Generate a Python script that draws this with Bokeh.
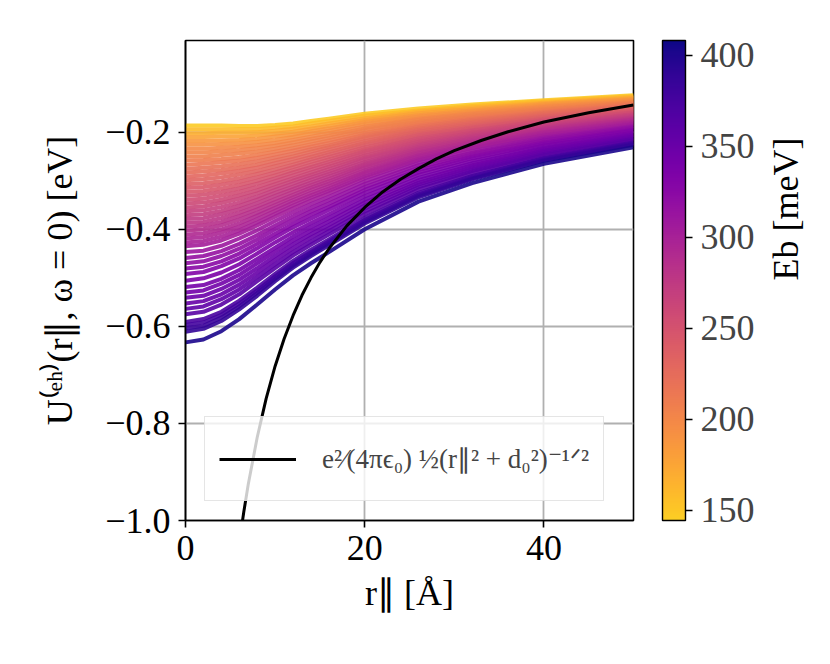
from math import pi
from bokeh.plotting import figure
from bokeh.models import (ColumnDataSource, LinearColorMapper, ColorBar, FixedTicker,
                          Range1d, LinearAxis)
from bokeh.palettes import Plasma256
from bokeh.embed import file_html
from bokeh.resources import INLINE

# ---------------- data ----------------
r_grid = [0, 2, 4, 6, 8, 10, 12, 14, 16, 20, 26, 32, 40, 50]

E_b = [147, 158, 168, 177, 186, 192, 197, 202, 206, 210, 215, 220, 224, 229, 233, 238,
       243, 247, 252, 256, 260, 264, 268, 272, 276, 280, 284, 288, 292, 296, 300, 304,
       310, 316, 321, 327, 331, 336, 340, 344, 348, 352, 357, 362, 372, 377, 382, 388,
       402]

U_curves = [
    [-0.186, -0.186, -0.186, -0.187, -0.187, -0.185, -0.182, -0.177, -0.172, -0.162, -0.151, -0.143, -0.134, -0.124],
    [-0.194, -0.194, -0.194, -0.194, -0.194, -0.191, -0.188, -0.182, -0.177, -0.166, -0.155, -0.146, -0.136, -0.126],
    [-0.202, -0.202, -0.201, -0.201, -0.200, -0.197, -0.193, -0.188, -0.182, -0.171, -0.158, -0.149, -0.139, -0.128],
    [-0.210, -0.210, -0.209, -0.209, -0.207, -0.203, -0.199, -0.193, -0.187, -0.175, -0.161, -0.152, -0.141, -0.130],
    [-0.218, -0.218, -0.217, -0.216, -0.214, -0.209, -0.205, -0.198, -0.192, -0.179, -0.165, -0.155, -0.143, -0.132],
    [-0.226, -0.226, -0.224, -0.223, -0.220, -0.216, -0.210, -0.203, -0.197, -0.183, -0.168, -0.158, -0.146, -0.134],
    [-0.234, -0.234, -0.232, -0.230, -0.227, -0.222, -0.216, -0.209, -0.202, -0.188, -0.172, -0.161, -0.148, -0.136],
    [-0.242, -0.242, -0.239, -0.237, -0.233, -0.228, -0.221, -0.214, -0.207, -0.192, -0.175, -0.163, -0.151, -0.138],
    [-0.250, -0.250, -0.247, -0.244, -0.240, -0.234, -0.227, -0.219, -0.212, -0.196, -0.179, -0.166, -0.153, -0.139],
    [-0.258, -0.257, -0.255, -0.252, -0.247, -0.240, -0.233, -0.225, -0.217, -0.201, -0.182, -0.169, -0.155, -0.141],
    [-0.267, -0.265, -0.262, -0.259, -0.253, -0.246, -0.238, -0.230, -0.222, -0.205, -0.186, -0.172, -0.158, -0.143],
    [-0.275, -0.273, -0.270, -0.266, -0.260, -0.252, -0.244, -0.235, -0.227, -0.209, -0.189, -0.175, -0.160, -0.145],
    [-0.283, -0.281, -0.278, -0.273, -0.267, -0.258, -0.250, -0.240, -0.231, -0.213, -0.193, -0.178, -0.162, -0.147],
    [-0.291, -0.289, -0.285, -0.280, -0.273, -0.264, -0.255, -0.246, -0.236, -0.218, -0.196, -0.181, -0.165, -0.149],
    [-0.299, -0.297, -0.293, -0.287, -0.280, -0.270, -0.261, -0.251, -0.241, -0.222, -0.199, -0.184, -0.167, -0.151],
    [-0.307, -0.305, -0.301, -0.295, -0.286, -0.277, -0.267, -0.256, -0.246, -0.226, -0.203, -0.187, -0.169, -0.153],
    [-0.315, -0.313, -0.308, -0.302, -0.293, -0.283, -0.272, -0.261, -0.251, -0.231, -0.206, -0.190, -0.172, -0.155],
    [-0.323, -0.321, -0.316, -0.309, -0.300, -0.289, -0.278, -0.267, -0.256, -0.235, -0.210, -0.193, -0.174, -0.157],
    [-0.331, -0.329, -0.323, -0.316, -0.306, -0.295, -0.283, -0.272, -0.261, -0.239, -0.213, -0.196, -0.176, -0.159],
    [-0.339, -0.337, -0.331, -0.323, -0.313, -0.301, -0.289, -0.277, -0.266, -0.243, -0.217, -0.198, -0.179, -0.161],
    [-0.347, -0.345, -0.339, -0.330, -0.320, -0.307, -0.295, -0.283, -0.271, -0.248, -0.220, -0.201, -0.181, -0.163],
    [-0.355, -0.353, -0.346, -0.337, -0.326, -0.313, -0.300, -0.288, -0.276, -0.252, -0.224, -0.204, -0.184, -0.164],
    [-0.363, -0.361, -0.354, -0.345, -0.333, -0.319, -0.306, -0.293, -0.281, -0.256, -0.227, -0.207, -0.186, -0.166],
    [-0.371, -0.369, -0.362, -0.352, -0.339, -0.325, -0.312, -0.298, -0.286, -0.261, -0.231, -0.210, -0.188, -0.168],
    [-0.379, -0.377, -0.369, -0.359, -0.346, -0.331, -0.317, -0.304, -0.291, -0.265, -0.234, -0.213, -0.191, -0.170],
    [-0.387, -0.385, -0.377, -0.366, -0.353, -0.338, -0.323, -0.309, -0.296, -0.269, -0.237, -0.216, -0.193, -0.172],
    [-0.395, -0.392, -0.385, -0.373, -0.359, -0.344, -0.329, -0.314, -0.301, -0.273, -0.241, -0.219, -0.195, -0.174],
    [-0.403, -0.400, -0.392, -0.380, -0.366, -0.350, -0.334, -0.319, -0.306, -0.278, -0.244, -0.222, -0.198, -0.176],
    [-0.411, -0.408, -0.400, -0.388, -0.372, -0.356, -0.340, -0.325, -0.311, -0.282, -0.248, -0.225, -0.200, -0.178],
    [-0.419, -0.416, -0.407, -0.395, -0.379, -0.362, -0.345, -0.330, -0.316, -0.286, -0.251, -0.228, -0.202, -0.180],
    [-0.427, -0.424, -0.415, -0.402, -0.386, -0.368, -0.351, -0.335, -0.321, -0.291, -0.255, -0.230, -0.205, -0.182],
    [-0.435, -0.432, -0.423, -0.409, -0.392, -0.374, -0.357, -0.341, -0.326, -0.295, -0.258, -0.233, -0.207, -0.184],
    [-0.447, -0.444, -0.434, -0.419, -0.402, -0.383, -0.365, -0.348, -0.333, -0.301, -0.263, -0.238, -0.211, -0.187],
    [-0.459, -0.455, -0.445, -0.430, -0.412, -0.392, -0.373, -0.356, -0.340, -0.307, -0.268, -0.242, -0.214, -0.189],
    [-0.470, -0.466, -0.455, -0.440, -0.421, -0.400, -0.381, -0.363, -0.347, -0.313, -0.273, -0.246, -0.217, -0.192],
    [-0.481, -0.477, -0.466, -0.450, -0.430, -0.409, -0.389, -0.370, -0.354, -0.319, -0.278, -0.250, -0.221, -0.195],
    [-0.492, -0.488, -0.476, -0.460, -0.439, -0.417, -0.396, -0.378, -0.360, -0.325, -0.283, -0.254, -0.224, -0.197],
    [-0.506, -0.501, -0.489, -0.472, -0.450, -0.427, -0.406, -0.387, -0.369, -0.332, -0.288, -0.259, -0.228, -0.201],
    [-0.519, -0.515, -0.502, -0.484, -0.461, -0.438, -0.415, -0.395, -0.377, -0.339, -0.294, -0.264, -0.232, -0.204],
    [-0.530, -0.526, -0.512, -0.494, -0.470, -0.446, -0.423, -0.403, -0.384, -0.345, -0.299, -0.268, -0.235, -0.206],
    [-0.541, -0.537, -0.523, -0.504, -0.480, -0.455, -0.431, -0.410, -0.391, -0.351, -0.304, -0.272, -0.238, -0.209],
    [-0.553, -0.548, -0.534, -0.514, -0.489, -0.463, -0.439, -0.417, -0.398, -0.357, -0.308, -0.276, -0.241, -0.212],
    [-0.564, -0.559, -0.544, -0.524, -0.498, -0.472, -0.447, -0.425, -0.404, -0.363, -0.313, -0.280, -0.245, -0.214],
    [-0.575, -0.570, -0.555, -0.534, -0.507, -0.480, -0.454, -0.432, -0.411, -0.369, -0.318, -0.284, -0.248, -0.217],
    [-0.591, -0.585, -0.570, -0.547, -0.520, -0.492, -0.465, -0.442, -0.421, -0.377, -0.325, -0.290, -0.253, -0.221],
    [-0.597, -0.592, -0.576, -0.553, -0.526, -0.497, -0.470, -0.447, -0.425, -0.381, -0.328, -0.292, -0.255, -0.222],
    [-0.604, -0.599, -0.582, -0.559, -0.531, -0.502, -0.475, -0.451, -0.429, -0.385, -0.331, -0.295, -0.257, -0.224],
    [-0.611, -0.605, -0.589, -0.565, -0.537, -0.507, -0.479, -0.455, -0.433, -0.388, -0.334, -0.297, -0.259, -0.226],
    [-0.633, -0.627, -0.610, -0.585, -0.555, -0.524, -0.495, -0.470, -0.447, -0.400, -0.343, -0.305, -0.265, -0.231],
]

coulomb_r = [6, 6.5, 7, 8, 9, 10, 11, 12, 13, 14, 15, 16, 18, 20, 22, 24, 26, 28, 30,
             33, 36, 40, 45, 50]
coulomb_U = [-1.046, -0.983, -0.926, -0.829, -0.749, -0.682, -0.626, -0.578, -0.536,
             -0.500, -0.468, -0.440, -0.393, -0.355, -0.323, -0.297, -0.275, -0.255,
             -0.238, -0.217, -0.199, -0.179, -0.160, -0.144]

x_ticks = [0, 20, 40]
y_ticks = [-1.0, -0.8, -0.6, -0.4, -0.2]
y_tick_labels = ["\u22121.0", "\u22120.8", "\u22120.6", "\u22120.4", "\u22120.2"]
cb_ticks = [150, 200, 250, 300, 350, 400]
E_low, E_high = 144.5, 408.0

FONT = "Liberation Serif"
FS = "36px"

# ---------------- figure ----------------
p = figure(width=828, height=650, x_range=Range1d(0, 50), y_range=Range1d(-1.0, -0.011),
           output_backend="svg", toolbar_location=None,
           min_border_left=185, min_border_right=195, min_border_top=40,
           min_border_bottom=130)

p.outline_line_color = "black"
p.outline_line_width = 1.6
p.background_fill_color = "white"

palette = list(reversed(Plasma256[:231]))
mapper = LinearColorMapper(palette=palette, low=E_low, high=E_high)

src = ColumnDataSource(dict(xs=[r_grid] * len(U_curves), ys=U_curves, E=E_b))
p.multi_line("xs", "ys", source=src, line_color={"field": "E", "transform": mapper},
             line_width=4, line_alpha=0.9)

p.line(coulomb_r, coulomb_U, line_color="black", line_width=3,
       legend_label="e\u00b2\u2044(4\u03c0\u03f5\u2080) \u00bd(r\u2225\u00b2 + d\u2080\u00b2)\u207b\u00b9\u141f\u00b2")

# axes
for ax in (p.xaxis[0], p.yaxis[0]):
    ax.major_label_text_font = FONT
    ax.major_label_text_font_size = FS
    ax.axis_label_text_font = FONT
    ax.axis_label_text_font_size = FS
    ax.axis_label_text_font_style = "normal"
    ax.major_tick_in = 0
    ax.major_tick_out = 7
    ax.major_tick_line_width = 1.6
    ax.minor_tick_line_color = None
    ax.axis_line_width = 1.6
    ax.axis_line_color = "black"
    ax.major_label_text_color = "black"
    ax.axis_label_text_color = "black"

p.xaxis.ticker = FixedTicker(ticks=x_ticks)
p.yaxis.ticker = FixedTicker(ticks=y_ticks)
p.yaxis.major_label_overrides = {t: s for t, s in zip(y_ticks, y_tick_labels)}
p.xaxis.axis_label = "r\u2225 [\u00c5]"
p.yaxis.axis_label = "U\u207d\u1d49\u02b0\u207e(r\u2225, \u03c9 = 0) [eV]"
p.xaxis.major_label_standoff = 8
p.yaxis.major_label_standoff = 8
p.xaxis.axis_label_standoff = 10
p.yaxis.axis_label_standoff = 22

p.xgrid.ticker = FixedTicker(ticks=x_ticks)
p.ygrid.ticker = FixedTicker(ticks=y_ticks)
p.grid.grid_line_color = "#b0b0b0"
p.grid.grid_line_width = 1.8

# legend
lg = p.legend[0]
lg.location = (19, 19)
lg.label_text_font = FONT
lg.label_text_font_size = "27px"
lg.glyph_width = 77
lg.glyph_height = 40
lg.label_height = 55
lg.label_standoff = 26
lg.padding = 14
lg.border_line_color = "#cccccc"
lg.border_line_width = 1.5
lg.background_fill_alpha = 0.8

# colorbar
cb = ColorBar(color_mapper=mapper, ticker=FixedTicker(ticks=cb_ticks), width=23,
              height=480, padding=0, margin=0, location=(29, 0),
              major_label_text_font=FONT, major_label_text_font_size=FS,
              major_tick_in=0, major_tick_out=7, major_tick_line_color="black",
              major_tick_line_width=1.6, minor_tick_line_color=None,
              bar_line_color="black", bar_line_width=1.4, label_standoff=8,
              background_fill_alpha=0)
p.add_layout(cb, "right")

# colorbar title as an extra right axis label (reads bottom-to-top)
p.extra_y_ranges = {"eb": Range1d(E_low, E_high)}
eb_axis = LinearAxis(y_range_name="eb", ticker=FixedTicker(ticks=[]),
                     axis_label="Eb [meV]" + "\u00a0" * 8, axis_label_text_font=FONT,
                     axis_label_text_font_size=FS, axis_label_text_font_style="normal",
                     axis_label_text_color="black",
                     axis_line_color=None,
                     major_tick_line_color=None, minor_tick_line_color=None,
                     major_label_text_font_size="0px", axis_label_standoff=28)
if "axis_label_orientation" in eb_axis.properties():
    eb_axis.axis_label_orientation = -3 * pi / 2
p.add_layout(eb_axis, "right")

open("out.html", "w").write(file_html(p, INLINE))
